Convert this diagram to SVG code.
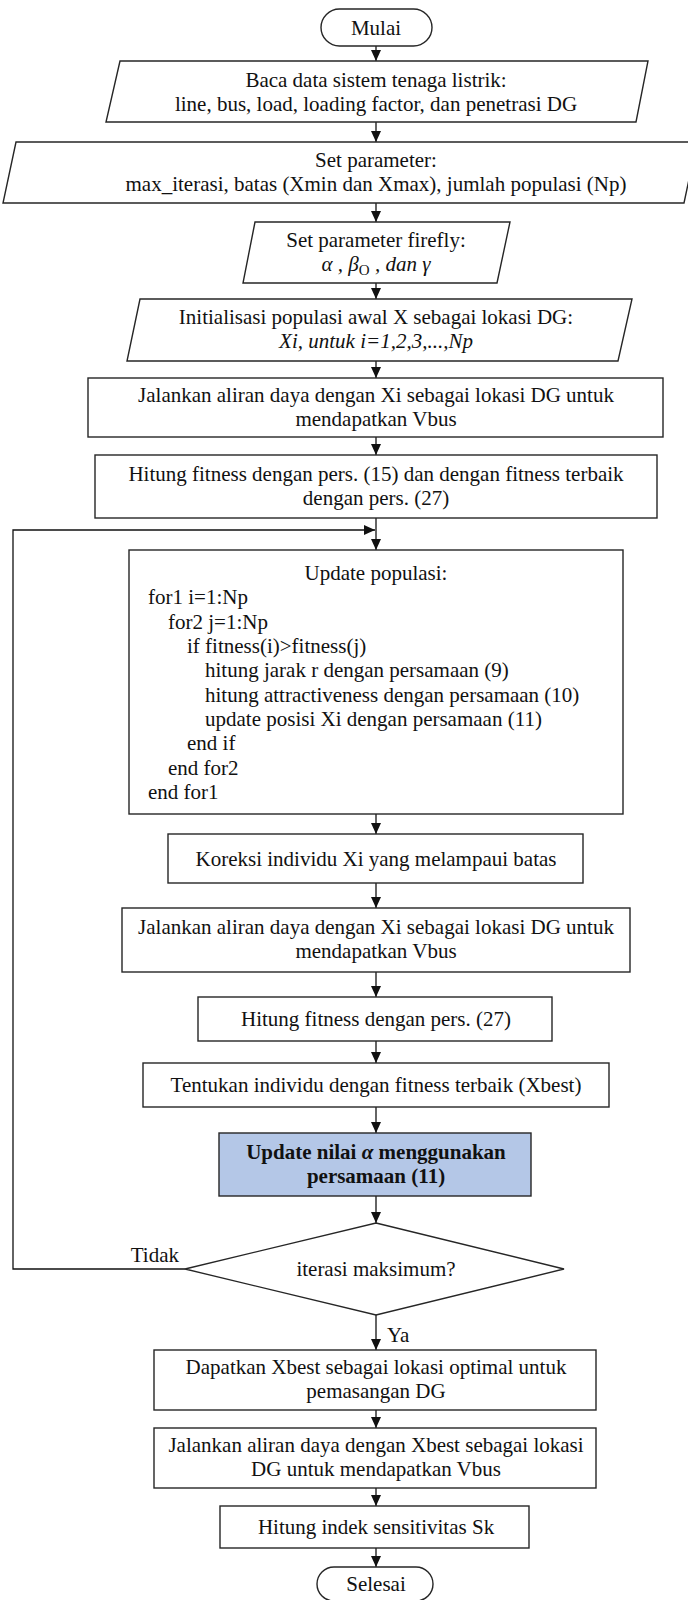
<svg xmlns="http://www.w3.org/2000/svg" width="688" height="1600" viewBox="0 0 688 1600">
  <style>
    .box { fill: #ffffff; stroke: #262626; stroke-width: 1.4; }
    .hl { fill: #b4c7e7; }
    .t { font-family: "Liberation Serif", "Times New Roman", serif; font-size: 21px; fill: #111111; }
    .c { text-anchor: middle; }
    .b { font-weight: bold; }
    .i { font-style: italic; }
    .conn { stroke: #111111; stroke-width: 1.3; fill: none; }
    .arrow { marker-end: url(#arr); }
  </style>
  <defs>
    <marker id="arr" viewBox="0 0 11 10" markerUnits="userSpaceOnUse" markerWidth="11" markerHeight="10" refX="11" refY="5" orient="auto">
      <path d="M0,0 L11,5 L0,10 z" fill="#111111"/>
    </marker>
  </defs>

  <!-- connectors -->
  <g id="connectors">
    <line class="conn arrow" x1="376" y1="46" x2="376" y2="61"/>
    <line class="conn arrow" x1="376" y1="122" x2="376" y2="142"/>
    <line class="conn arrow" x1="376" y1="203" x2="376" y2="222"/>
    <line class="conn arrow" x1="376" y1="283" x2="376" y2="299"/>
    <line class="conn arrow" x1="376" y1="361" x2="376" y2="378"/>
    <line class="conn arrow" x1="376" y1="437" x2="376" y2="455"/>
    <line class="conn arrow" x1="376" y1="518" x2="376" y2="550"/>
    <line class="conn arrow" x1="376" y1="814" x2="376" y2="834"/>
    <line class="conn arrow" x1="376" y1="883" x2="376" y2="908"/>
    <line class="conn arrow" x1="376" y1="972" x2="376" y2="997"/>
    <line class="conn arrow" x1="376" y1="1041" x2="376" y2="1063"/>
    <line class="conn arrow" x1="376" y1="1107" x2="376" y2="1133"/>
    <line class="conn arrow" x1="376" y1="1196" x2="376" y2="1223"/>
    <line class="conn arrow" x1="376" y1="1315" x2="376" y2="1350"/>
    <line class="conn arrow" x1="376" y1="1410" x2="376" y2="1428"/>
    <line class="conn arrow" x1="376" y1="1488" x2="376" y2="1506"/>
    <line class="conn arrow" x1="376" y1="1548" x2="376" y2="1567"/>
    <!-- loop back from the decision -->
    <polyline class="conn arrow" points="185,1269 13,1269 13,530 375,530"/>
    <text class="t" x="179" y="1262" text-anchor="end">Tidak</text>
    <text class="t" x="387" y="1342">Ya</text>
  </g>

  <g id="mulai">
    <rect class="box" x="321" y="9" width="111" height="37" rx="18.5"/>
    <text class="t c" x="376" y="35">Mulai</text>
  </g>

  <g id="baca-data">
    <polygon class="box" points="120,61 648,61 636,122 106,122"/>
    <text class="t c" x="376" y="87">Baca data sistem tenaga listrik:</text>
    <text class="t c" x="376" y="111">line, bus, load, loading factor, dan penetrasi DG</text>
  </g>

  <g id="set-parameter">
    <polygon class="box" points="16,142 697,142 684,203 3,203"/>
    <text class="t c" x="376" y="167">Set parameter:</text>
    <text class="t c" x="376" y="191">max_iterasi, batas (Xmin dan Xmax), jumlah populasi (Np)</text>
  </g>

  <g id="set-firefly">
    <polygon class="box" points="255,222 510,222 497,283 243,283"/>
    <text class="t c" x="376" y="247">Set parameter firefly:</text>
    <text class="t c" x="376" y="271"><tspan class="i">α , β</tspan><tspan font-size="15" dy="4">O</tspan><tspan class="i" dy="-4"> , dan γ</tspan></text>
  </g>

  <g id="inisialisasi">
    <polygon class="box" points="140,299 632,299 618,361 127,361"/>
    <text class="t c" x="376" y="324">Initialisasi populasi awal X sebagai lokasi DG:</text>
    <text class="t c i" x="376" y="348">Xi, untuk i=1,2,3,...,Np</text>
  </g>

  <g id="aliran-daya-1">
    <rect class="box" x="88" y="378" width="575" height="59"/>
    <text class="t c" x="376" y="402">Jalankan aliran daya dengan Xi sebagai lokasi DG untuk</text>
    <text class="t c" x="376" y="426">mendapatkan Vbus</text>
  </g>

  <g id="fitness-awal">
    <rect class="box" x="95" y="455" width="562" height="63"/>
    <text class="t c" x="376" y="481">Hitung fitness dengan pers. (15) dan dengan fitness terbaik</text>
    <text class="t c" x="376" y="505">dengan pers. (27)</text>
  </g>

  <g id="update-populasi">
    <rect class="box" x="129" y="550" width="494" height="264"/>
    <text class="t c" x="376" y="580">Update populasi:</text>
    <text class="t" x="148" y="604">for1 i=1:Np</text>
    <text class="t" x="168" y="629">for2 j=1:Np</text>
    <text class="t" x="187" y="653">if fitness(i)&gt;fitness(j)</text>
    <text class="t" x="205" y="677">hitung jarak r dengan persamaan (9)</text>
    <text class="t" x="205" y="702">hitung attractiveness dengan persamaan (10)</text>
    <text class="t" x="205" y="726">update posisi Xi dengan persamaan (11)</text>
    <text class="t" x="187" y="750">end if</text>
    <text class="t" x="168" y="775">end for2</text>
    <text class="t" x="148" y="799">end for1</text>
  </g>

  <g id="koreksi">
    <rect class="box" x="168" y="834" width="415" height="49"/>
    <text class="t c" x="376" y="866">Koreksi individu Xi yang melampaui batas</text>
  </g>

  <g id="aliran-daya-2">
    <rect class="box" x="122" y="908" width="508" height="64"/>
    <text class="t c" x="376" y="934">Jalankan aliran daya dengan Xi sebagai lokasi DG untuk</text>
    <text class="t c" x="376" y="958">mendapatkan Vbus</text>
  </g>

  <g id="fitness">
    <rect class="box" x="198" y="997" width="354" height="44"/>
    <text class="t c" x="376" y="1026">Hitung fitness dengan pers. (27)</text>
  </g>

  <g id="xbest">
    <rect class="box" x="143" y="1063" width="466" height="44"/>
    <text class="t c" x="376" y="1092">Tentukan individu dengan fitness terbaik (Xbest)</text>
  </g>

  <g id="update-alpha">
    <rect class="box hl" x="219" y="1133" width="312" height="63"/>
    <text class="t c b" x="376" y="1159">Update nilai <tspan class="i">α</tspan> menggunakan</text>
    <text class="t c b" x="376" y="1183">persamaan (11)</text>
  </g>

  <g id="iterasi-maksimum">
    <polygon class="box" points="376,1223 564,1269 376,1315 185,1269"/>
    <text class="t c" x="376" y="1276">iterasi maksimum?</text>
  </g>

  <g id="lokasi-optimal">
    <rect class="box" x="154" y="1350" width="442" height="60"/>
    <text class="t c" x="376" y="1374">Dapatkan Xbest sebagai lokasi optimal untuk</text>
    <text class="t c" x="376" y="1398">pemasangan DG</text>
  </g>

  <g id="aliran-daya-3">
    <rect class="box" x="154" y="1428" width="442" height="60"/>
    <text class="t c" x="376" y="1452">Jalankan aliran daya dengan Xbest sebagai lokasi</text>
    <text class="t c" x="376" y="1476">DG untuk mendapatkan Vbus</text>
  </g>

  <g id="sensitivitas">
    <rect class="box" x="220" y="1506" width="309" height="42"/>
    <text class="t c" x="376" y="1534">Hitung indek sensitivitas Sk</text>
  </g>

  <g id="selesai">
    <rect class="box" x="317" y="1567" width="116" height="34" rx="17"/>
    <text class="t c" x="376" y="1591">Selesai</text>
  </g>
</svg>
